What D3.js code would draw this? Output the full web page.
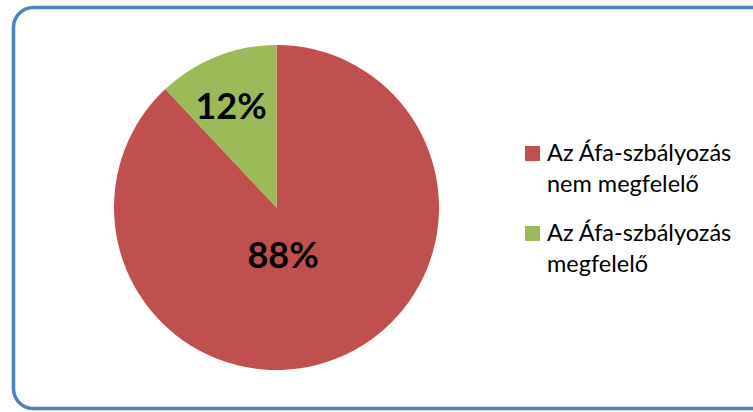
<!DOCTYPE html>
<html>
<head>
<meta charset="utf-8">
<script src="https://cdn.jsdelivr.net/npm/d3@7"></script>
<style>
  body { margin: 0; background: #fff; }
  svg { display: block; }
</style>
</head>
<body>
<svg width="753" height="412"></svg>
<script>
// data
var categories = ['Az Áfa-szbályozás nem megfelelő', 'Az Áfa-szbályozás megfelelő'];
var values = [88, 12];
var legendLines = [['Az Áfa-szbályozás', 'nem megfelelő'], ['Az Áfa-szbályozás', 'megfelelő']];
var colors = ['#C0504D', '#9BBB59'];

var width = 753, height = 412;
var cx = 276.5, cy = 207.5, radius = 162.5;

var svg = d3.select('svg');

// chart frame (right edge runs off the picture)
svg.append('rect')
    .attr('x', 13.5)
    .attr('y', 7.5)
    .attr('width', 760)
    .attr('height', 401)
    .attr('rx', 20)
    .attr('fill', 'none')
    .attr('stroke', '#4F81BD')
    .attr('stroke-width', 3.5);

var pie = d3.pie().sort(null).value(function(d){ return d; });
var arc = d3.arc().innerRadius(0).outerRadius(radius);

var g = svg.append('g').attr('transform', 'translate(' + cx + ',' + cy + ')');

var arcs = pie(values);

g.selectAll('path')
    .data(arcs)
    .enter()
    .append('path')
    .attr('d', arc)
    .attr('fill', function(d, i){ return colors[i]; });

// percentage labels
var labelPos = [[6.5, 46], [-45.5, -103]];
g.selectAll('.pct')
    .data(arcs)
    .enter()
    .append('text')
    .attr('class', 'pct')
    .attr('x', function(d, i){ return labelPos[i][0]; })
    .attr('y', function(d, i){ return labelPos[i][1]; })
    .attr('text-anchor', 'middle')
    .attr('dominant-baseline', 'central')
    .style('font-family', 'Lato, sans-serif')
    .style('font-weight', 'bold')
    .style('font-size', '36px')
    .attr('fill', '#000')
    .text(function(d){ return d.data + '%'; });

// legend
var legendX = 525, legendY = [146, 226];
var legend = svg.selectAll('.legend')
    .data(categories)
    .enter()
    .append('g')
    .attr('class', 'legend')
    .attr('transform', function(d, i){ return 'translate(' + legendX + ',' + legendY[i] + ')'; });

legend.append('rect')
    .attr('width', 15)
    .attr('height', 15)
    .attr('fill', function(d, i){ return colors[i]; });

legend.append('text')
    .attr('y', 14.8)
    .style('font-family', 'Lato, sans-serif')
    .style('font-size', '23.5px')
    .attr('fill', '#000')
    .selectAll('tspan')
    .data(function(d, i){ return legendLines[i]; })
    .enter()
    .append('tspan')
    .attr('x', 22)
    .attr('dy', function(d, i){ return i === 0 ? 0 : 31; })
    .text(function(d){ return d; });
</script>
</body>
</html>
